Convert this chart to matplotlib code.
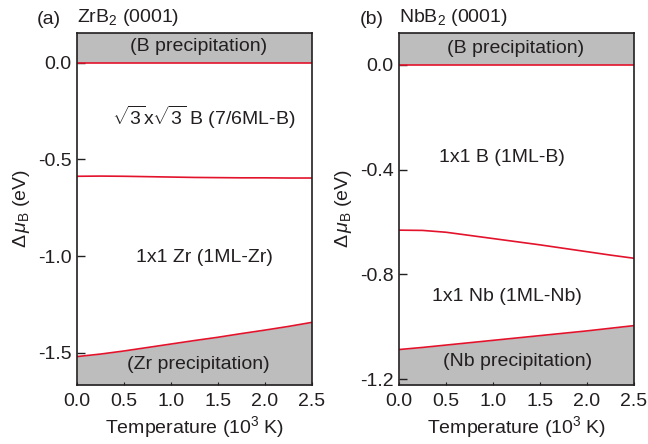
import numpy as np
import matplotlib
matplotlib.use('Agg')
from matplotlib import pyplot as plt

plt.rcParams['font.family'] = 'Liberation Sans'
plt.rcParams['mathtext.fontset'] = 'custom'
plt.rcParams['mathtext.rm'] = 'Liberation Sans'
plt.rcParams['mathtext.it'] = 'Liberation Sans:italic'
plt.rcParams['font.size'] = 14

# temperature grid (10^3 K)
temp = [0.0, 0.25, 0.5, 0.75, 1.0, 1.25, 1.5, 1.75, 2.0, 2.25, 2.5]

# ZrB2 (0001): phase boundaries, delta mu_B (eV)
zr_upper = [0.0, 0.0, 0.0, 0.0, 0.0, 0.0, 0.0, 0.0, 0.0, 0.0, 0.0]
zr_mid = [-0.587, -0.586, -0.587, -0.589, -0.591, -0.593, -0.594, -0.595, -0.595, -0.596, -0.596]
zr_lower = [-1.521, -1.508, -1.492, -1.474, -1.456, -1.438, -1.421, -1.402, -1.384, -1.365, -1.344]

# NbB2 (0001)
nb_upper = [0.0, 0.0, 0.0, 0.0, 0.0, 0.0, 0.0, 0.0, 0.0, 0.0, 0.0]
nb_mid = [-0.631, -0.632, -0.639, -0.651, -0.663, -0.675, -0.687, -0.700, -0.713, -0.726, -0.738]
nb_lower = [-1.086, -1.078, -1.069, -1.060, -1.051, -1.042, -1.033, -1.024, -1.015, -1.005, -0.995]

zr_ticks = [0.0, -0.5, -1.0, -1.5]
nb_ticks = [0.0, -0.4, -0.8, -1.2]
x_ticks = [0.0, 0.5, 1.0, 1.5, 2.0, 2.5]

gray = '#bdbdbd'
red = '#e3132c'
txt = '#231f20'

fig = plt.figure(figsize=(6.48, 4.44), dpi=100)
ax1 = fig.add_axes([0.119, 0.133, 0.362, 0.793])
ax2 = fig.add_axes([0.616, 0.133, 0.362, 0.793])

panels = [
    (ax1, zr_upper, zr_mid, zr_lower, (-1.668, 0.156), zr_ticks,
     ['(B precipitation)', r'$\sqrt{3}$x$\sqrt{3}$ B (7/6ML-B)', '1x1 Zr (1ML-Zr)', '(Zr precipitation)'],
     [(1.29, 0.083), (1.35, -0.28), (1.36, -1.008), (1.29, -1.564)],
     '(a)', r'ZrB$_2$ (0001)'),
    (ax2, nb_upper, nb_mid, nb_lower, (-1.221, 0.121), nb_ticks,
     ['(B precipitation)', '1x1 B (1ML-B)', '1x1 Nb (1ML-Nb)', '(Nb precipitation)'],
     [(1.24, 0.06), (1.10, -0.355), (1.15, -0.885), (1.26, -1.133)],
     '(b)', r'NbB$_2$ (0001)'),
]

for ax, up, mid, low, ylim, yt, labels, pos, tag, title in panels:
    ax.set_xlim(0, 2.5)
    ax.set_ylim(*ylim)
    # shaded precipitation regions
    ax.fill_between(temp, up, ylim[1], color=gray, lw=0, zorder=0)
    ax.fill_between(temp, low, ylim[0], color=gray, lw=0, zorder=0)
    for y in (up, mid, low):
        ax.plot(temp, y, color=red, lw=1.2, zorder=2)
    for s, (x, y) in zip(labels, pos):
        ax.text(x, y, s, ha='center', va='center', color=txt)
    ax.set_yticks(yt)
    ax.set_yticklabels(['%.1f' % v for v in yt])
    ax.set_xticks(x_ticks)
    ax.set_xticklabels(['%.1f' % v for v in x_ticks])
    ax.tick_params(axis='y', direction='in', length=6, width=1, colors=txt, pad=4)
    ax.tick_params(axis='x', direction='in', length=2.5, width=0.8, colors=txt, pad=6)
    for sp in ax.spines.values():
        sp.set_linewidth(1.2)
        sp.set_color(txt)
    ax.set_xlabel(r'Temperature (10$^3$ K)', color=txt, labelpad=3)
    ax.set_ylabel(r'$\Delta\,\mu_{\rm B}$ (eV)', color=txt, labelpad=4)
    ax.text(0.0, 1.015, title, transform=ax.transAxes, ha='left', va='bottom', color=txt)
    ax.text(-0.17, 1.015, tag, transform=ax.transAxes, ha='left', va='bottom', color=txt)

fig.savefig('out.png', dpi=100)
